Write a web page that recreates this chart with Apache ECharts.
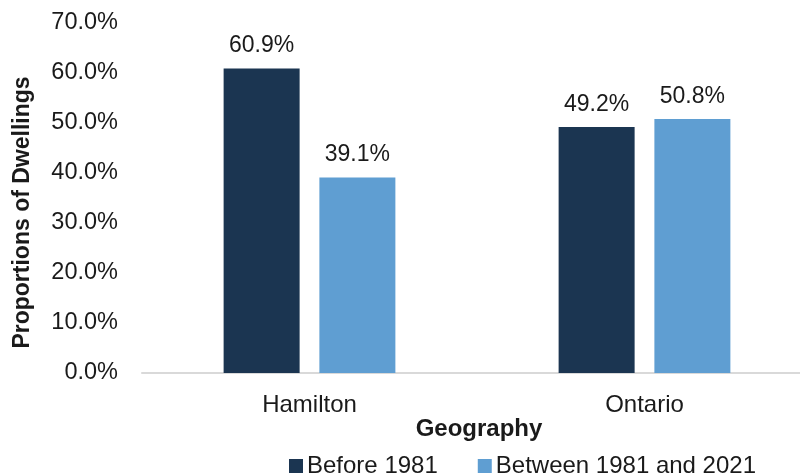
<!DOCTYPE html>
<html>
<head>
<meta charset="utf-8">
<script src="https://cdn.jsdelivr.net/npm/echarts@6/dist/echarts.min.js"></script>
<style>html,body{margin:0;padding:0;background:#fff}#c{width:800px;height:476px}</style>
</head>
<body>
<div id="c"></div>
<script>
var categories = ['Hamilton', 'Ontario'];
var seriesNames = ['Before 1981', 'Between 1981 and 2021'];
var before1981 = [60.9, 49.2];
var between1981and2021 = [39.1, 50.8];
var yTicks = {min: 0, max: 70, interval: 10};

var font = '"Liberation Sans", Arial, sans-serif';
var txt = '#1a1a1a';
var chart = echarts.init(document.getElementById('c'), null, {renderer: 'canvas'});
function pct(v){ return v.toFixed(1) + '%'; }
chart.setOption({
  animation: false,
  backgroundColor: '#fff',
  textStyle: {fontFamily: font},
  grid: {left: 142, top: 23, width: 670, bottom: 103, containLabel: false, outerBoundsMode: 'none'},
  legend: {
    top: 454, left: 289, padding: 0,
    itemWidth: 14, itemHeight: 14, itemGap: 40,
    icon: 'rect',
    textStyle: {fontFamily: font, fontSize: 24, color: txt, padding: [0,0,0,-1]},
    data: seriesNames
  },
  xAxis: {
    type: 'category', data: categories,
    name: 'Geography', nameLocation: 'middle', nameGap: 44, nameMoveOverlap: false,
    nameTextStyle: {fontFamily: font, fontSize: 24, fontWeight: 'bold', color: txt, padding: [0,0,0,4]},
    axisLine: {lineStyle: {color: '#d9d9d9', width: 2}},
    axisTick: {show: false},
    axisLabel: {fontFamily: font, fontSize: 24, color: txt, margin: 20}
  },
  yAxis: {
    type: 'value', min: yTicks.min, max: yTicks.max, interval: yTicks.interval,
    name: 'Proportions of Dwellings', nameLocation: 'middle', nameGap: 108,
    nameTextStyle: {fontFamily: font, fontSize: 23, fontWeight: 'bold', color: txt, padding: [0,0,0,-29]},
    axisLine: {show: false}, axisTick: {show: false},
    splitLine: {show: false},
    axisLabel: {fontFamily: font, fontSize: 23.5, color: txt, margin: 24, formatter: function(v){return pct(v);}}
  },
  series: [
    {name: seriesNames[0], type: 'bar', data: before1981, barWidth: 76, barGap: '26%',
     itemStyle: {color: '#1b3551'},
     label: {show: true, position: 'top', distance: 11, fontFamily: font, fontSize: 23, color: txt, formatter: function(p){return pct(p.value);}}},
    {name: seriesNames[1], type: 'bar', data: between1981and2021, barWidth: 76,
     itemStyle: {color: '#5f9ed2'},
     label: {show: true, position: 'top', distance: 11, fontFamily: font, fontSize: 23, color: txt, formatter: function(p){return pct(p.value);}}}
  ]
});
</script>
</body>
</html>
